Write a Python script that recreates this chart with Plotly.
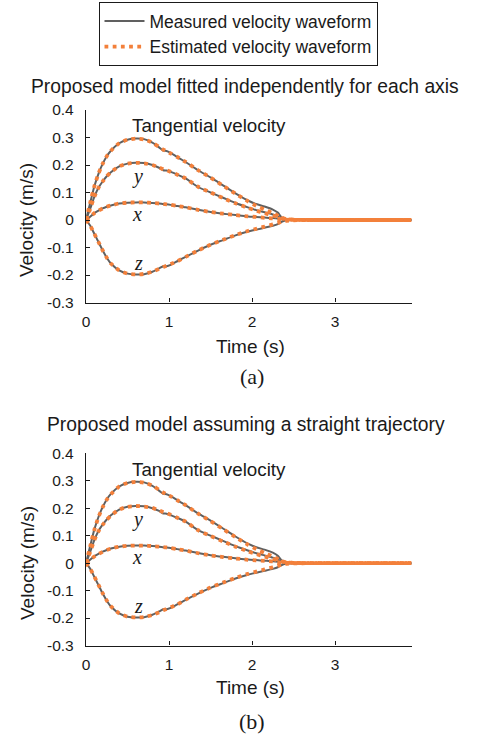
import plotly.graph_objects as go

# ---------------- data ----------------
t = [0, 0.05, 0.1, 0.15, 0.2, 0.25, 0.3, 0.4, 0.5, 0.6, 0.7, 0.8, 0.88, 0.93, 0.97, 1.02,
     1.1, 1.2, 1.35, 1.5, 1.65, 1.8, 1.95, 2.05, 2.15, 2.25, 2.31, 2.35, 2.4, 2.5, 2.7,
     3.0, 3.5, 3.92]

# measured (same recording in both panels)
tan_meas = [0, 0.062, 0.122, 0.168, 0.204, 0.232, 0.252, 0.279, 0.292, 0.296, 0.294, 0.281,
            0.264, 0.252, 0.251, 0.244, 0.229, 0.211, 0.181, 0.155, 0.126, 0.097, 0.071,
            0.058, 0.049, 0.038, 0.027, 0.012, 0.002, 0, 0, 0, 0, 0]
y_meas = [0, 0.04, 0.084, 0.117, 0.14, 0.159, 0.174, 0.195, 0.205, 0.208, 0.207, 0.2,
          0.19, 0.181, 0.18, 0.175, 0.165, 0.151, 0.12, 0.1, 0.081, 0.062, 0.046,
          0.036, 0.028, 0.02, 0.013, 0.006, 0.001, 0, 0, 0, 0, 0]
x_meas = [0, 0.012, 0.025, 0.034, 0.042, 0.048, 0.053, 0.06, 0.063, 0.064, 0.064, 0.062,
          0.06, 0.058, 0.057, 0.055, 0.051, 0.046, 0.037, 0.029, 0.023, 0.018, 0.013,
          0.011, 0.009, 0.007, 0.005, 0.003, 0.001, 0, 0, 0, 0, 0]
z_meas = [0, -0.02, -0.05, -0.08, -0.11, -0.137, -0.158, -0.183, -0.195, -0.198, -0.197,
          -0.188, -0.176, -0.168, -0.168, -0.163, -0.15, -0.134, -0.111, -0.09, -0.073,
          -0.056, -0.042, -0.035, -0.028, -0.021, -0.015, -0.008, -0.002, 0, 0, 0, 0, 0]

# estimated (a): fitted independently for each axis
tan_est_a = [0, 0.062, 0.122, 0.168, 0.204, 0.232, 0.252, 0.279, 0.292, 0.296, 0.293, 0.281,
             0.266, 0.256, 0.25, 0.242, 0.229, 0.211, 0.181, 0.154, 0.125, 0.096, 0.068,
             0.052, 0.038, 0.025, 0.016, 0.01, 0.004, 0.001, 0, 0, 0, 0]
y_est_a = [0, 0.04, 0.084, 0.117, 0.14, 0.159, 0.174, 0.195, 0.205, 0.208, 0.206, 0.2,
           0.191, 0.185, 0.181, 0.175, 0.165, 0.151, 0.121, 0.1, 0.08, 0.061, 0.044,
           0.034, 0.025, 0.016, 0.011, 0.007, 0.003, 0.001, 0, 0, 0, 0]
x_est_a = [0, 0.012, 0.025, 0.034, 0.042, 0.048, 0.053, 0.06, 0.063, 0.064, 0.064, 0.062,
           0.06, 0.058, 0.057, 0.055, 0.051, 0.046, 0.037, 0.029, 0.023, 0.018, 0.013,
           0.011, 0.008, 0.006, 0.004, 0.003, 0.001, 0, 0, 0, 0, 0]
z_est_a = [0, -0.02, -0.05, -0.08, -0.11, -0.137, -0.158, -0.183, -0.195, -0.198, -0.196,
           -0.188, -0.178, -0.171, -0.166, -0.16, -0.15, -0.134, -0.111, -0.09, -0.072,
           -0.055, -0.04, -0.032, -0.024, -0.016, -0.011, -0.007, -0.003, -0.001, 0, 0, 0, 0]

# estimated (b): straight trajectory assumption
tan_est_b = [0, 0.061, 0.121, 0.167, 0.203, 0.231, 0.251, 0.279, 0.292, 0.296, 0.293, 0.282,
             0.267, 0.257, 0.251, 0.243, 0.229, 0.211, 0.18, 0.153, 0.124, 0.095, 0.067,
             0.051, 0.037, 0.024, 0.015, 0.009, 0.004, 0.001, 0, 0, 0, 0]
y_est_b = [0, 0.04, 0.083, 0.116, 0.139, 0.158, 0.173, 0.195, 0.205, 0.208, 0.206, 0.201,
           0.192, 0.186, 0.182, 0.176, 0.165, 0.151, 0.12, 0.099, 0.079, 0.06, 0.043,
           0.033, 0.024, 0.015, 0.01, 0.006, 0.003, 0.001, 0, 0, 0, 0]
x_est_b = [0, 0.012, 0.024, 0.033, 0.041, 0.048, 0.053, 0.06, 0.063, 0.064, 0.064, 0.062,
           0.06, 0.058, 0.057, 0.055, 0.051, 0.046, 0.036, 0.028, 0.022, 0.017, 0.012,
           0.01, 0.008, 0.006, 0.004, 0.002, 0.001, 0, 0, 0, 0, 0]
z_est_b = [0, -0.02, -0.049, -0.079, -0.109, -0.136, -0.157, -0.183, -0.195, -0.198, -0.196,
           -0.189, -0.179, -0.172, -0.167, -0.161, -0.15, -0.133, -0.11, -0.089, -0.071,
           -0.054, -0.039, -0.031, -0.023, -0.015, -0.01, -0.006, -0.003, -0.001, 0, 0, 0, 0]

x_ticks = [0, 1, 2, 3]
y_ticks = [-0.3, -0.2, -0.1, 0, 0.1, 0.2, 0.3, 0.4]
y_ticktext = ["-0.3", "-0.2", "-0.1", "0", "0.1", "0.2", "0.3", "0.4"]

panel_titles = ["Proposed model fitted independently for each axis",
                "Proposed model assuming a straight trajectory"]
panel_tags = ["(a)", "(b)"]

# ---------------- styles ----------------
SANS = "Liberation Sans, Arial, Helvetica, sans-serif"
SERIF = "Liberation Serif, Times New Roman, serif"
GRAY = "#606060"
ORANGE = "#F3803B"
INK = "#1a1a1a"

fig = go.Figure()

panels = [
    ("x", "y", [tan_meas, y_meas, x_meas, z_meas], [tan_est_a, y_est_a, x_est_a, z_est_a]),
    ("x2", "y2", [tan_meas, y_meas, x_meas, z_meas], [tan_est_b, y_est_b, x_est_b, z_est_b]),
]

for pi, (xa, ya, meas, est) in enumerate(panels):
    for k, series in enumerate(meas):
        fig.add_trace(go.Scatter(
            x=t, y=series, xaxis=xa, yaxis=ya, mode="lines",
            line=dict(color=GRAY, width=2, shape="spline", smoothing=0.6),
            name="Measured velocity waveform", legendgroup="meas",
            showlegend=(pi == 0 and k == 0), hoverinfo="skip"))
for pi, (xa, ya, meas, est) in enumerate(panels):
    for k, series in enumerate(est):
        fig.add_trace(go.Scatter(
            x=t, y=series, xaxis=xa, yaxis=ya, mode="lines",
            line=dict(color=ORANGE, width=3.8, dash="3.8px,4.4px", shape="spline", smoothing=0.6),
            name="Estimated velocity waveform", legendgroup="est",
            showlegend=(pi == 0 and k == 0), hoverinfo="skip"))

axis_common = dict(
    showline=True, linecolor=INK, linewidth=1.3, mirror=False,
    ticks="inside", ticklen=4, tickwidth=1.2, tickcolor=INK,
    showgrid=False, zeroline=False, automargin=False,
    tickfont=dict(family=SANS, size=15.5, color=INK),
)

H = 737.0
W = 479.0
x_dom = [86 / W, 411.5 / W]
y_dom_top = [1 - 302.5 / H, 1 - 110 / H]
y_dom_bot = [1 - 645.5 / H, 1 - 453.3 / H]

fig.update_layout(
    width=479, height=737, autosize=False,
    margin=dict(l=0, r=0, t=0, b=0, pad=0, autoexpand=False),
    paper_bgcolor="white", plot_bgcolor="white",
    showlegend=True,
    legend=dict(
        x=238 / W, xanchor="center", y=1 - 2 / H, yanchor="top",
        bordercolor=INK, borderwidth=1, bgcolor="white",
        font=dict(family=SANS, size=17.5, color=INK),
        tracegroupgap=0, itemwidth=40,
    ),
    xaxis=dict(domain=x_dom, range=[0, 3.92], tickvals=x_ticks, anchor="y",
               ticklabelstandoff=5, **axis_common),
    yaxis=dict(domain=y_dom_top, range=[-0.3, 0.4], tickvals=y_ticks, ticktext=y_ticktext,
               anchor="x", ticklabelstandoff=8, **axis_common),
    xaxis2=dict(domain=x_dom, range=[0, 3.92], tickvals=x_ticks, anchor="y2",
                ticklabelstandoff=5, **axis_common),
    yaxis2=dict(domain=y_dom_bot, range=[-0.3, 0.4], tickvals=y_ticks, ticktext=y_ticktext,
                anchor="x2", ticklabelstandoff=8, **axis_common),
)

ann = []
title_pos = [(244.7, 86), (246, 424)]
vel_y = [220, 563]
time_y = [346, 687]
tag_y = [376, 721]
for i in range(2):
    ann.append(dict(text=panel_titles[i], xref="paper", yref="paper",
                    x=title_pos[i][0] / W, y=1 - title_pos[i][1] / H,
                    xanchor="center", yanchor="middle", showarrow=False,
                    font=dict(family=SANS, size=19.3, color=INK)))
    ann.append(dict(text="Velocity (m/s)", xref="paper", yref="paper",
                    x=27 / W, y=1 - vel_y[i] / H, textangle=-90,
                    xanchor="center", yanchor="middle", showarrow=False,
                    font=dict(family=SANS, size=19, color=INK)))
    ann.append(dict(text="Time (s)", xref="paper", yref="paper",
                    x=250 / W, y=1 - time_y[i] / H,
                    xanchor="center", yanchor="middle", showarrow=False,
                    font=dict(family=SANS, size=19, color=INK)))
    ann.append(dict(text=panel_tags[i], xref="paper", yref="paper",
                    x=252 / W, y=1 - tag_y[i] / H,
                    xanchor="center", yanchor="middle", showarrow=False,
                    font=dict(family=SERIF, size=22, color=INK)))
    xr = "x" if i == 0 else "x2"
    yr = "y" if i == 0 else "y2"
    ann.append(dict(text="Tangential velocity", xref=xr, yref=yr, x=0.525, y=0.342,
                    xanchor="left", yanchor="middle", showarrow=False,
                    font=dict(family=SANS, size=18.8, color=INK)))
    for lab, lx, ly in [("y", 0.62, 0.16), ("x", 0.62, 0.023), ("z", 0.63, -0.157)]:
        ann.append(dict(text="<i>" + lab + "</i>", xref=xr, yref=yr, x=lx, y=ly,
                        xanchor="center", yanchor="middle", showarrow=False,
                        font=dict(family=SERIF, size=20, color=INK)))

fig.update_layout(annotations=ann)

fig.write_html("out.html",
               config={"displayModeBar": False},
               post_script="document.body.style.margin='0';document.body.style.padding='0';")
